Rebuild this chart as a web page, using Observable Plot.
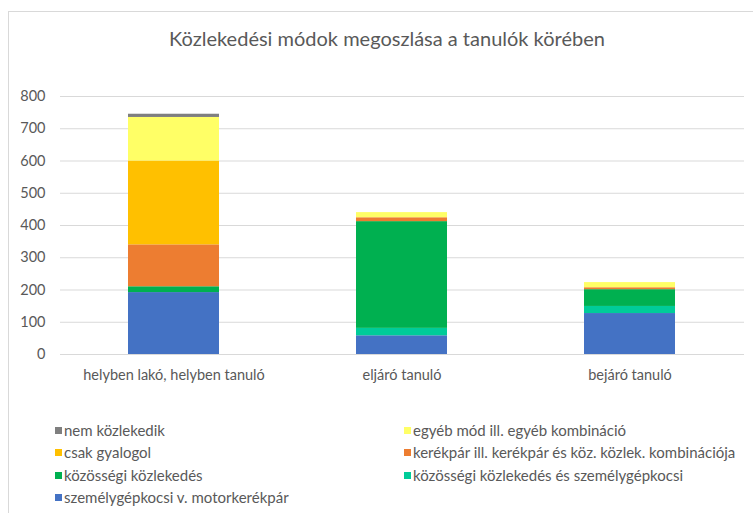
<!DOCTYPE html>
<html>
<head>
<meta charset="utf-8">
<script src="https://cdn.jsdelivr.net/npm/d3@7"></script>
<script src="https://cdn.jsdelivr.net/npm/@observablehq/plot@0.6"></script>
<style>
  html, body { margin: 0; padding: 0; background: #fff; overflow: hidden; }
  body { width: 753px; height: 513px; position: relative; font-family: Lato, "Open Sans", sans-serif; color: #595959; }
  #frame { position: absolute; left: 8px; top: 11px; width: 800px; height: 560px; border: 1px solid #d9d9d9; box-sizing: border-box; }
  #title { position: absolute; left: 8px; width: 758px; top: 26px; text-align: center; font-size: 20px; color: #595959; white-space: nowrap; }
  #chart { position: absolute; left: 0; top: 0; }
  #legend { position: absolute; left: 0; top: 0; font-size: 15px; color: #595959; }
  .item { position: absolute; white-space: nowrap; display: flex; align-items: center; }
  .sw { width: 7px; height: 7px; margin-right: 2px; display: inline-block; }
</style>
</head>
<body>
<div id="frame"></div>
<div id="title">Közlekedési módok megoszlása a tanulók körében</div>
<div id="chart"></div>
<div id="legend"></div>
<script>
const categories = ["helyben lakó, helyben tanuló", "eljáró tanuló", "bejáró tanuló"];
// series from bottom of stack to top
const seriesNames = [
  "személygépkocsi v. motorkerékpár",
  "közösségi közlekedés és személygépkocsi",
  "közösségi közlekedés",
  "kerékpár ill. kerékpár és köz. közlek. kombinációja",
  "csak gyalogol",
  "egyéb mód ill. egyéb kombináció",
  "nem közlekedik"
];
const seriesColors = ["#4472C4", "#00CC99", "#00B050", "#ED7D31", "#FFC000", "#FFFF66", "#7F7F7F"];
const szemelygepkocsi = [192, 58, 127];
const kozossegiSzgk = [0, 23, 22];
const kozossegi = [18, 331, 52];
const kerekpar = [130, 12, 6];
const gyalog = [260, 0, 0];
const egyeb = [135, 16, 16];
const nemKozlekedik = [10, 0, 0];
const yTicks = [0, 100, 200, 300, 400, 500, 600, 700, 800];

const seriesValues = [szemelygepkocsi, kozossegiSzgk, kozossegi, kerekpar, gyalog, egyeb, nemKozlekedik];
const data = [];
categories.forEach((c, i) => {
  seriesNames.forEach((s, j) => data.push({category: c, series: s, value: seriesValues[j][i]}));
});

const chart = Plot.plot({
  width: 753,
  height: 400,
  marginTop: 96,
  marginBottom: 46,
  marginLeft: 60,
  marginRight: 9,
  style: {fontFamily: "Lato, 'Open Sans', sans-serif", fontSize: "14.5px", color: "#595959", background: "transparent"},
  x: {domain: categories, paddingInner: 0.6, paddingOuter: 0.3, label: null},
  y: {domain: [0, 800], label: null},
  color: {domain: seriesNames, range: seriesColors},
  marks: [
    Plot.ruleY(yTicks, {stroke: "#d9d9d9", strokeWidth: 1, strokeOpacity: 1}),
    Plot.barY(data, {x: "category", y: "value", fill: "series", order: seriesNames}),
    Plot.axisY({ticks: yTicks, tickSize: 0, tickPadding: 15, label: null, fontSize: 14.5}),
    Plot.axisX({tickSize: 0, tickPadding: 15, label: null, fontSize: 14.5})
  ]
});
document.getElementById("chart").appendChild(chart);

// Legend: reverse order, two columns
const legend = document.getElementById("legend");
const legendOrder = seriesNames.map((s, j) => j).reverse();
const colX = [55, 404];
const rowY = [430, 452, 475, 497];
legendOrder.forEach((j, k) => {
  const col = k % 2, row = Math.floor(k / 2);
  const item = document.createElement("div");
  item.className = "item";
  item.style.left = colX[col] + "px";
  item.style.top = (rowY[row] - 10) + "px";
  item.style.height = "20px";
  const sw = document.createElement("span");
  sw.className = "sw";
  sw.style.background = seriesColors[j];
  const t = document.createElement("span");
  t.textContent = seriesNames[j];
  item.appendChild(sw);
  item.appendChild(t);
  legend.appendChild(item);
});
</script>
</body>
</html>
